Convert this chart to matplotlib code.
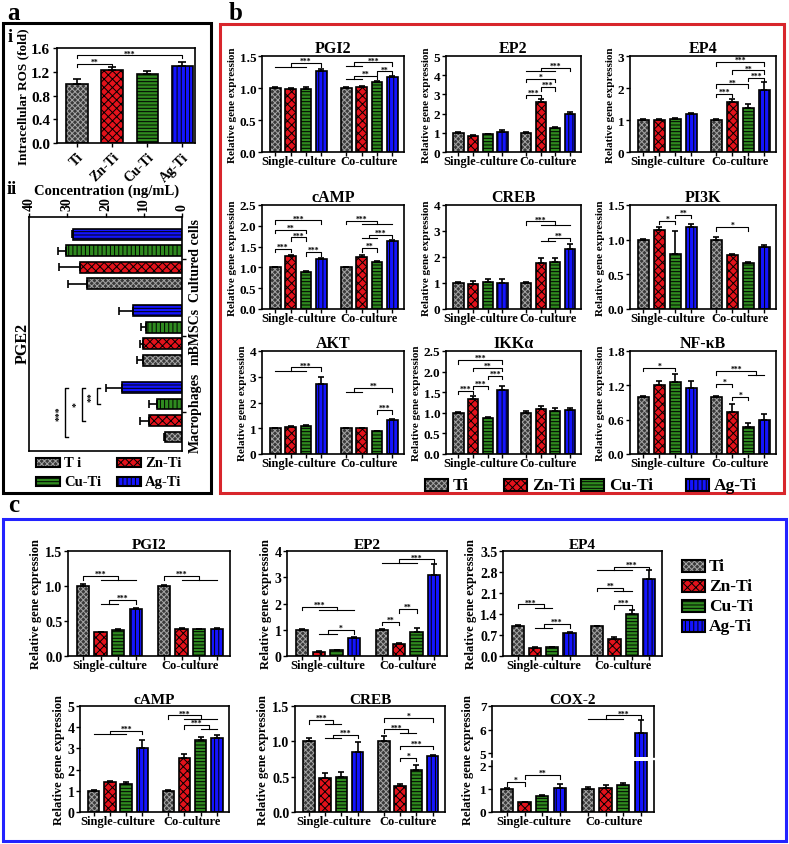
import numpy as np
import matplotlib
matplotlib.use("Agg")
import matplotlib.pyplot as plt
from matplotlib.patches import Rectangle

W, H = 789, 845

plt.rcParams.update({
    "font.family": "Liberation Serif",
    "font.weight": "bold",
    "axes.labelweight": "bold",
    "axes.titleweight": "bold",
    "axes.linewidth": 1.2,
    "xtick.major.width": 1.0,
    "ytick.major.width": 1.0,
    "xtick.major.size": 3,
    "ytick.major.size": 3,
    "hatch.linewidth": 0.7,
})

# ---------------- data ----------------
GROUPS = ["Ti", "Zn-Ti", "Cu-Ti", "Ag-Ti"]
CULTURES = ["Single-culture", "Co-culture"]

# a-i intracellular ROS (fold)
ROS = [1.00, 1.23, 1.16, 1.29]
ROS_ERR = [0.07, 0.05, 0.05, 0.07]
ROS_SIG = [(0, 1, 1.335, "**"), (0, 3, 1.476, "***")]

# a-ii PGE2 concentration (ng/mL), Ti/Zn/Cu/Ag within each cell type
PGE2_CELLS = ["Macrophages", "mBMSCs", "Cultured cells"]
PGE2 = [4.4, 8.7, 6.6, 15.7,
        10.3, 10.1, 9.4, 12.7,
        24.8, 26.7, 30.4, 28.4]
PGE2_ERR = [0.2, 2.2, 2.1, 4.2,
            1.5, 0.8, 1.3, 3.7,
            4.9, 5.5, 2.0, 0.3]
PGE2_SIG = [(2, 3, 22.3, "**"), (1, 3, 26.2, "*"), (0, 3, 30.6, "***")]

# panel b: Ti, Zn-Ti, Cu-Ti, Ag-Ti single culture, then co-culture
B_PGI2 = [1.00, 0.98, 0.99, 1.27, 1.00, 1.01, 1.09, 1.17]
B_PGI2_ERR = [0.01, 0.02, 0.02, 0.03, 0.02, 0.02, 0.02, 0.02]
B_PGI2_SIG = [(1, 3, 1.39, "***", 0, 2), (4.5, 7, 1.40, "***", 4, 5),
              (4.5, 6, 1.19, "**", 4, 5), (6, 7, 1.26, "**")]

B_EP2 = [1.00, 0.85, 0.92, 1.02, 1.00, 2.60, 1.25, 1.98]
B_EP2_ERR = [0.02, 0.03, 0.04, 0.10, 0.03, 0.15, 0.07, 0.12]
B_EP2_SIG = [(4, 5, 2.97, "***"), (5, 6, 3.38, "***"), (4, 6, 3.82, "*"),
             (5, 7, 4.39, "***", 4, 6)]

B_EP4 = [1.00, 1.01, 1.03, 1.19, 1.00, 1.55, 1.38, 1.95]
B_EP4_ERR = [0.02, 0.03, 0.04, 0.04, 0.02, 0.12, 0.13, 0.25]
B_EP4_SIG = [(4, 5, 1.82, "***"), (4, 6, 2.11, "**"), (6, 7, 2.32, "***"),
             (5, 7, 2.55, "**"), (4, 7, 2.81, "***")]

B_CAMP = [1.00, 1.27, 0.90, 1.20, 1.00, 1.25, 1.14, 1.63]
B_CAMP_ERR = [0.02, 0.02, 0.02, 0.02, 0.01, 0.04, 0.02, 0.02]
B_CAMP_SIG = [(0, 1, 1.45, "***"), (1, 2, 1.72, "***"), (2, 3, 1.37, "***"),
              (0, 2, 1.91, "**"), (0, 3, 2.13, "***"), (5, 6, 1.46, "**"),
              (5.5, 7, 1.79, "***", 5, 6), (4, 6, 2.12, "***", 5, 7)]

B_CREB = [1.00, 0.95, 1.03, 1.00, 1.00, 1.78, 1.80, 2.30]
B_CREB_ERR = [0.02, 0.12, 0.12, 0.17, 0.03, 0.17, 0.17, 0.20]
B_CREB_SIG = [(4, 6, 3.37, "***", 5, 7), (5.5, 7, 2.75, "**", 5, 6)]

B_PI3K = [1.00, 1.14, 0.80, 1.18, 1.00, 0.78, 0.66, 0.90]
B_PI3K_ERR = [0.01, 0.04, 0.33, 0.04, 0.04, 0.02, 0.02, 0.02]
B_PI3K_SIG = [(1, 2, 1.27, "*"), (2, 3, 1.36, "**"), (4, 6, 1.18, "*")]

B_AKT = [1.00, 1.05, 1.08, 2.70, 1.00, 1.00, 0.88, 1.33]
B_AKT_ERR = [0.01, 0.03, 0.03, 0.28, 0.02, 0.02, 0.03, 0.03]
B_AKT_SIG = [(1, 3, 3.36, "***", 0, 2), (4.5, 7, 2.56, "**", 4, 5),
             (6, 7, 1.70, "***")]

B_IKKA = [1.00, 1.33, 0.87, 1.56, 1.00, 1.10, 1.05, 1.07]
B_IKKA_ERR = [0.01, 0.07, 0.03, 0.08, 0.04, 0.06, 0.07, 0.05]
B_IKKA_SIG = [(0, 1, 1.53, "***"), (1, 2, 1.66, "***"), (2, 3, 1.90, "***"),
              (1, 3, 2.09, "**"), (0, 3, 2.28, "***")]

B_NFKB = [1.00, 1.20, 1.25, 1.16, 1.00, 0.73, 0.47, 0.60]
B_NFKB_ERR = [0.02, 0.07, 0.15, 0.12, 0.02, 0.14, 0.08, 0.10]
B_NFKB_SIG = [(0, 2, 1.51, "*"), (4, 5, 1.23, "*"), (5, 6, 1.00, "*"),
              (4, 6.5, 1.45, "***", 6, 7)]

# panel c
C_PGI2 = [1.00, 0.34, 0.37, 0.67, 1.00, 0.39, 0.38, 0.39]
C_PGI2_ERR = [0.03, 0.01, 0.01, 0.02, 0.01, 0.01, 0.01, 0.01]
C_PGI2_SIG = [(0, 2, 1.14, "***", 1, 3), (1.5, 3, 0.80, "***", 1, 2),
              (4, 6, 1.14, "***", 5, 7)]

C_EP2 = [1.00, 0.17, 0.22, 0.68, 1.00, 0.45, 0.93, 3.10]
C_EP2_ERR = [0.02, 0.01, 0.02, 0.04, 0.01, 0.04, 0.12, 0.42]
C_EP2_SIG = [(0, 2, 1.87, "***", 1, 3), (1.5, 3, 0.99, "*", 1, 2),
             (4, 5, 1.30, "**"), (5, 6, 1.78, "**"), (5, 7, 3.68, "***", 4, 6)]

C_EP4 = [1.00, 0.28, 0.29, 0.78, 1.00, 0.58, 1.40, 2.58]
C_EP4_ERR = [0.02, 0.01, 0.02, 0.03, 0.01, 0.06, 0.14, 0.30]
C_EP4_SIG = [(0, 1.5, 1.72, "***", 1, 2), (1.5, 3, 1.06, "***", 1, 2),
             (4, 5.5, 2.28, "**", 5, 6), (5, 6, 1.70, "***"),
             (5, 7, 2.98, "***", 4, 6)]

C_CAMP = [1.00, 1.40, 1.33, 3.02, 1.00, 2.55, 3.40, 3.47]
C_CAMP_ERR = [0.02, 0.08, 0.08, 0.38, 0.06, 0.17, 0.15, 0.15]
C_CAMP_SIG = [(1, 3, 3.83, "***", 0, 2), (4, 6, 4.56, "***", 5, 7),
              (5, 6.5, 4.09, "***", 6, 7)]

C_CREB = [1.00, 0.48, 0.49, 0.85, 1.00, 0.37, 0.60, 0.79]
C_CREB_ERR = [0.05, 0.07, 0.08, 0.14, 0.07, 0.03, 0.07, 0.02]
C_CREB_SIG = [(0, 1.5, 1.30, "***", 1, 2), (1.5, 3, 1.09, "***", 1, 2),
              (4, 7, 1.33, "*"), (4, 5.5, 1.17, "***", 5, 6),
              (5, 7, 0.94, "***"), (5, 6, 0.77, "*")]

C_COX2 = [1.00, 0.41, 0.68, 1.05, 1.00, 1.05, 1.15, 5.85]
C_COX2_ERR = [0.04, 0.04, 0.07, 0.15, 0.06, 0.10, 0.08, 0.55]
C_COX2_SIG_LOW = [(0, 1, 1.29, "*"), (1, 3, 1.59, "**")]
C_COX2_SIG_HIGH = [(5, 7, 6.60, "***", 4, 6)]

# ---------------- styles ----------------
FACE = ["#3a3a3a", "#e3121b", "#2f8a1f", "#1414ff"]
HCOL = ["#a5a5a5", "black", "black", "black"]
HATCH = ["xxxxxx", "xxxx", "-----", "||||"]
HATCH_ROT = ["xxxxxx", "xxxx", "||||", "-----"]
POS = [0, 1, 2, 3, 4.6, 5.6, 6.6, 7.6]
XLIM = (-0.85, 8.35)

fig = plt.figure(figsize=(W / 100, H / 100), dpi=100)


def add_ax(x0, y0, x1, y1):
    return fig.add_axes([x0 / W, 1 - y1 / H, (x1 - x0) / W, (y1 - y0) / H])


def xi(i):
    return float(np.interp(i, np.arange(len(POS)), POS))


def draw_bars(ax, pos, vals, errs, width=0.7, hatches=HATCH, horizontal=False, capsize=2):
    n = len(vals)
    for i in range(n):
        k = i % 4
        if horizontal:
            ax.barh(pos[i], vals[i], height=width, color=FACE[k], edgecolor=HCOL[k],
                    hatch=hatches[k], linewidth=0, zorder=2)
            ax.barh(pos[i], vals[i], height=width, fill=False, edgecolor="black",
                    linewidth=1.2, zorder=3)
        else:
            ax.bar(pos[i], vals[i], width=width, color=FACE[k], edgecolor=HCOL[k],
                   hatch=hatches[k], linewidth=0, zorder=2)
            ax.bar(pos[i], vals[i], width=width, fill=False, edgecolor="black",
                   linewidth=1.2, zorder=3)
    lo = np.zeros(n)
    if horizontal:
        ax.errorbar(vals, pos, xerr=[lo, errs], fmt="none", ecolor="black",
                    elinewidth=1.2, capsize=capsize, capthick=1.2, zorder=4)
    else:
        ax.errorbar(pos, vals, yerr=[lo, errs], fmt="none", ecolor="black",
                    elinewidth=1.2, capsize=capsize, capthick=1.2, zorder=4)


def draw_sig(ax, sig, leg, xmap=xi, fs=5.5):
    for s in sig:
        x1, x2, y, txt = xmap(s[0]), xmap(s[1]), s[2], s[3]
        ax.plot([x1, x1, x2, x2], [y - leg, y, y, y - leg], color="black", lw=0.8,
                zorder=5, clip_on=False)
        ax.text((x1 + x2) / 2, y, txt, ha="center", va="baseline", fontsize=fs, zorder=5)
        if len(s) > 4:
            ax.plot([xmap(s[4]), xmap(s[5])], [y - leg, y - leg], color="black",
                    lw=0.8, zorder=5, clip_on=False)


def style_x(ax, fs):
    ax.set_xlim(*XLIM)
    ax.set_xticks(POS)
    ax.set_xticklabels([])
    ax.set_xticks([1.5, 6.1], CULTURES, minor=True)
    ax.tick_params(axis="x", which="minor", length=0, pad=2, labelsize=fs)


def gene_panel(title, vals, errs, sig, box, ymax, ticks, fmt, fs_title, fs_tick,
               fs_x, fs_ylab):
    ax = add_ax(*box)
    draw_bars(ax, POS, vals, errs)
    ax.set_ylim(0, ymax)
    ax.set_yticks(ticks)
    ax.set_yticklabels([fmt % t for t in ticks])
    ax.tick_params(axis="y", labelsize=fs_tick, pad=1)
    style_x(ax, fs_x)
    ax.set_title(title, fontsize=fs_title, pad=2)
    ax.set_ylabel("Relative gene expression", fontsize=fs_ylab, labelpad=2)
    leg = 3.5 * ymax / (box[3] - box[1])
    draw_sig(ax, sig, leg)
    return ax


# ---------------- panel a ----------------
ax = add_ax(57, 49, 195, 144)
draw_bars(ax, [0, 1, 2, 3], ROS, ROS_ERR, width=0.62, capsize=3)
ax.set_xlim(-0.58, 3.36)
ax.set_ylim(0, 1.6)
ticks = [0, 0.4, 0.8, 1.2, 1.6]
ax.set_yticks(ticks)
ax.set_yticklabels(["%.1f" % t for t in ticks])
ax.set_xticks(range(4))
ax.set_xticklabels(GROUPS, rotation=45, ha="right", rotation_mode="anchor")
ax.tick_params(axis="y", labelsize=11, pad=2)
ax.tick_params(axis="x", labelsize=10, pad=2)
ax.set_ylabel("Intracellular ROS (fold)", fontsize=9.5, labelpad=1)
draw_sig(ax, ROS_SIG, 0.05, xmap=lambda i: i)

ax = add_ax(29, 218, 182, 452)
pos_ii = [0, 1, 2, 3, 4.65, 5.65, 6.65, 7.65, 9.3, 10.3, 11.3, 12.3]
draw_bars(ax, pos_ii, PGE2, PGE2_ERR, width=0.66, hatches=HATCH_ROT,
          horizontal=True, capsize=3)
ax.set_xlim(40, 0)
ax.set_ylim(-0.85, 13.35)
ax.xaxis.tick_top()
ax.set_xticks([40, 30, 20, 10, 0])
ax.set_xticklabels(["40", "30", "20", "10", "0"], rotation=90)
ax.yaxis.tick_right()
ax.set_yticks([1.5, 6.15, 10.8])
ax.set_yticklabels(PGE2_CELLS, rotation=90, va="center")
ax.tick_params(axis="x", labelsize=10, pad=2)
ax.tick_params(axis="y", labelsize=10, pad=2)
for a, b, v, t in PGE2_SIG:
    ya, yb = pos_ii[a], pos_ii[b]
    ax.plot([v - 0.9, v, v, v - 0.9], [ya, ya, yb, yb], color="black", lw=1.0,
            clip_on=False)
    ax.text(v + 0.4, (ya + yb) / 2, t, rotation=90, ha="right", va="center", fontsize=7)
fig.text(23 / W, 1 - 343 / H, "PGE2", rotation=90, ha="center", va="center", fontsize=11.5)
fig.text(107 / W, 1 - 191 / H, "Concentration (ng/mL)", ha="center", va="center",
         fontsize=10.5)

fig.text(7 / W, 1 - 14 / H, "a", fontsize=18, va="center", ha="left")
fig.text(8 / W, 1 - 38 / H, "i", fontsize=13, va="center", ha="left")
fig.text(7 / W, 1 - 190 / H, "ii", fontsize=13, va="center", ha="left")
fig.text(229 / W, 1 - 14 / H, "b", fontsize=18, va="center", ha="left")
fig.text(8 / W, 1 - 506 / H, "c", fontsize=18, va="center", ha="left")


def legend_item(x, y, w, h, k, label, fs, hatches=HATCH, gap=4):
    fig.add_artist(Rectangle((x / W, 1 - (y + h) / H), w / W, h / H,
                             transform=fig.transFigure, facecolor=FACE[k],
                             edgecolor=HCOL[k], hatch=hatches[k], linewidth=0))
    fig.add_artist(Rectangle((x / W, 1 - (y + h) / H), w / W, h / H,
                             transform=fig.transFigure, fill=False,
                             edgecolor="black", linewidth=1.5))
    fig.text((x + w + gap) / W, 1 - (y + h / 2) / H, label, va="center", ha="left",
             fontsize=fs)


A_LEG = ["T i", "Zn-Ti", "Cu-Ti", "Ag-Ti"]
for k, (lx, ly) in enumerate([(36, 459), (117, 459), (36, 478), (117, 478)]):
    legend_item(lx, ly, 24, 9, k, A_LEG[k], 10.5)

# ---------------- panel b ----------------
B_COLS = [(262, 404), (446, 581), (630, 776)]
B_ROWS = [(57, 153), (206, 310), (352, 455)]
B_PANELS = [
    ("PGI2", B_PGI2, B_PGI2_ERR, B_PGI2_SIG, 1.5, [0, 0.5, 1, 1.5], "%.1f"),
    ("EP2", B_EP2, B_EP2_ERR, B_EP2_SIG, 5, [0, 1, 2, 3, 4, 5], "%d"),
    ("EP4", B_EP4, B_EP4_ERR, B_EP4_SIG, 3, [0, 1, 2, 3], "%d"),
    ("cAMP", B_CAMP, B_CAMP_ERR, B_CAMP_SIG, 2.5, [0, 0.5, 1, 1.5, 2, 2.5], "%.1f"),
    ("CREB", B_CREB, B_CREB_ERR, B_CREB_SIG, 4, [0, 1, 2, 3, 4], "%d"),
    ("PI3K", B_PI3K, B_PI3K_ERR, B_PI3K_SIG, 1.5, [0, 0.5, 1, 1.5], "%.1f"),
    ("AKT", B_AKT, B_AKT_ERR, B_AKT_SIG, 4, [0, 1, 2, 3, 4], "%d"),
    ("IKKα", B_IKKA, B_IKKA_ERR, B_IKKA_SIG, 2.5, [0, 0.5, 1, 1.5, 2, 2.5], "%.1f"),
    ("NF-κB", B_NFKB, B_NFKB_ERR, B_NFKB_SIG, 1.8, [0, 0.6, 1.2, 1.8], "%.1f"),
]
for n, (title, vals, errs, sig, ymax, ticks, fmt) in enumerate(B_PANELS):
    r, c = divmod(n, 3)
    box = (B_COLS[c][0], B_ROWS[r][0], B_COLS[c][1], B_ROWS[r][1])
    gene_panel(title, vals, errs, sig, box, ymax, ticks, fmt, 11.5, 9.5, 9, 8)

for k, (lx, lab) in enumerate(zip([425, 504, 581, 686], GROUPS)):
    legend_item(lx, 480, 23, 12, k, lab, 12.5, gap=5)

# ---------------- panel c ----------------
C_PANELS = [
    ("PGI2", C_PGI2, C_PGI2_ERR, C_PGI2_SIG, (68, 552, 230, 657), 1.5,
     [0, 0.5, 1, 1.5], "%.1f"),
    ("EP2", C_EP2, C_EP2_ERR, C_EP2_SIG, (287, 552, 447, 657), 4,
     [0, 1, 2, 3, 4], "%d"),
    ("EP4", C_EP4, C_EP4_ERR, C_EP4_SIG, (503, 552, 662, 657), 3.5,
     [0, 0.7, 1.4, 2.1, 2.8, 3.5], "%.1f"),
    ("cAMP", C_CAMP, C_CAMP_ERR, C_CAMP_SIG, (80, 707, 229, 813), 5,
     [0, 1, 2, 3, 4, 5], "%d"),
    ("CREB", C_CREB, C_CREB_ERR, C_CREB_SIG, (295, 707, 445, 813), 1.5,
     [0, 0.5, 1, 1.5], "%.1f"),
]
for title, vals, errs, sig, box, ymax, ticks, fmt in C_PANELS:
    gene_panel(title, vals, errs, sig, box, ymax, ticks, fmt, 11, 10, 9, 9)

# COX-2 with a broken axis
ax_hi = add_ax(492, 707, 654, 758)
ax_lo = add_ax(492, 762, 654, 813)
for axx in (ax_hi, ax_lo):
    draw_bars(axx, POS, C_COX2, C_COX2_ERR)
    axx.tick_params(axis="y", labelsize=9.5, pad=1)
ax_lo.set_ylim(0, 2.2)
ax_lo.set_yticks([0, 1, 2])
ax_hi.set_ylim(4.85, 7)
ax_hi.set_yticks([5, 6, 7])
ax_lo.spines["top"].set_visible(False)
ax_hi.spines["bottom"].set_visible(False)
ax_hi.set_xlim(*XLIM)
ax_hi.set_xticks([])
style_x(ax_lo, 9)
ax_hi.set_title("COX-2", fontsize=11, pad=2)
draw_sig(ax_lo, C_COX2_SIG_LOW, 3.5 * 2.2 / 51)
draw_sig(ax_hi, C_COX2_SIG_HIGH, 3.5 * 2.15 / 51)
fig.text(468 / W, 1 - 760 / H, "Relative gene expression", rotation=90,
         ha="center", va="center", fontsize=9)

for k, lab in enumerate(GROUPS):
    legend_item(682, 561 + 20 * k, 23, 12, k, lab, 12.5, gap=4)

# ---------------- frames ----------------
for (x0, y0, x1, y1, col) in [(3, 24, 211, 494, "black"),
                              (220, 25, 784, 494, "#d8262c"),
                              (3, 520, 786, 842, "#2323ff")]:
    fig.add_artist(Rectangle((x0 / W, 1 - y1 / H), (x1 - x0) / W, (y1 - y0) / H,
                             transform=fig.transFigure, fill=False, edgecolor=col,
                             linewidth=2.2))

fig.savefig("out.png", dpi=100)
